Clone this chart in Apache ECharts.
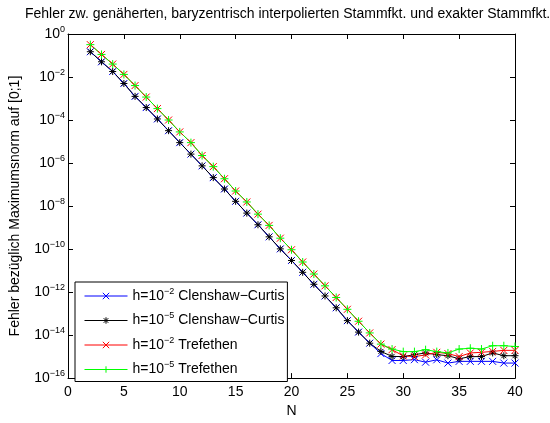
<!DOCTYPE html>
<html>
<head>
<meta charset="utf-8">
<script src="https://cdn.jsdelivr.net/npm/echarts@6/dist/echarts.min.js"></script>
<style>
html, body { margin: 0; padding: 0; background: #fff; }
#chart { width: 550px; height: 423px; }
</style>
</head>
<body>
<div id="chart"></div>
<script>
// N = 2 .. 40
var nValues = [2, 3, 4, 5, 6, 7, 8, 9, 10, 11, 12, 13, 14, 15, 16, 17, 18, 19, 20,
    21, 22, 23, 24, 25, 26, 27, 28, 29, 30, 31, 32, 33, 34, 35, 36, 37, 38, 39, 40];

// h=1e-2 Clenshaw-Curtis
var errCC2 = [1.5e-1, 5.1e-2, 1.8e-2, 5.0e-3, 1.26e-3, 3.8e-4, 1.12e-4, 3.2e-5, 8.9e-6, 2.6e-6,
    7.4e-7, 2.1e-7, 6.2e-8, 1.66e-8, 4.7e-9, 1.35e-9, 3.7e-10, 1.02e-10, 2.95e-11, 8.3e-12,
    2.3e-12, 6.6e-13, 1.86e-13, 4.7e-14, 1.38e-14, 4.2e-15, 1.38e-15, 6.6e-16, 6.6e-16, 7.2e-16,
    5.5e-16, 7.1e-16, 5.0e-16, 6.0e-16, 6.0e-16, 6.0e-16, 6.0e-16, 5.0e-16, 5.0e-16];

// h=1e-5 Clenshaw-Curtis
var errCC5 = [1.5e-1, 5.1e-2, 1.8e-2, 5.0e-3, 1.26e-3, 3.8e-4, 1.12e-4, 3.2e-5, 8.9e-6, 2.6e-6,
    7.4e-7, 2.1e-7, 6.2e-8, 1.66e-8, 4.7e-9, 1.35e-9, 3.7e-10, 1.02e-10, 2.95e-11, 8.3e-12,
    2.3e-12, 6.6e-13, 1.86e-13, 4.7e-14, 1.38e-14, 4.2e-15, 1.74e-15, 1.02e-15, 1.0e-15, 1.23e-15,
    1.48e-15, 1.23e-15, 1.1e-15, 7.9e-16, 1.0e-15, 1.0e-15, 1.48e-15, 1.1e-15, 1.1e-15];

// h=1e-2 Trefethen
var errTr2 = [3.2e-1, 1.12e-1, 4.0e-2, 1.32e-2, 4.0e-3, 1.17e-3, 3.4e-4, 1.0e-4, 2.8e-5, 8.9e-6,
    2.24e-6, 6.8e-7, 1.86e-7, 5.0e-8, 1.55e-8, 4.2e-9, 1.26e-9, 3.2e-10, 9.3e-11, 2.5e-11,
    6.9e-12, 1.95e-12, 5.6e-13, 1.58e-13, 4.4e-14, 1.26e-14, 3.8e-15, 2.1e-15, 1.07e-15, 1.0e-15,
    1.2e-15, 1.58e-15, 1.38e-15, 1.0e-15, 1.48e-15, 1.58e-15, 1.74e-15, 1.95e-15, 1.95e-15];

// h=1e-5 Trefethen
var errTr5 = [3.2e-1, 1.12e-1, 4.0e-2, 1.32e-2, 4.0e-3, 1.17e-3, 3.4e-4, 1.0e-4, 2.8e-5, 8.9e-6,
    2.24e-6, 6.8e-7, 1.86e-7, 5.0e-8, 1.55e-8, 4.2e-9, 1.26e-9, 3.2e-10, 9.3e-11, 2.5e-11,
    6.9e-12, 1.95e-12, 5.6e-13, 1.58e-13, 4.4e-14, 1.26e-14, 3.8e-15, 2.24e-15, 1.7e-15, 1.7e-15,
    2.1e-15, 1.7e-15, 1.48e-15, 2.24e-15, 2.45e-15, 2.24e-15, 3.2e-15, 3.2e-15, 2.95e-15];

var seriesKeys = ['cc2', 'cc5', 'tr2', 'tr5'];
var legendExp = ['\u22122', '\u22125', '\u22122', '\u22125'];
var legendRest = [' Clenshaw\u2212Curtis', ' Clenshaw\u2212Curtis', ' Trefethen', ' Trefethen'];

var FONT = '"Liberation Sans", Arial, Helvetica, sans-serif';
var FS = 14;

var symX = 'path://M0,0L7,7M7,0L0,7';
var symStar = 'path://M0,3.5L7,3.5M3.5,0L3.5,7M1,1L6,6M6,1L1,6';
var symPlus = 'path://M0,4L8,4M4,0L4,8';

var mkSeries = function (key, errs, color, symbol, size) {
    return {
        name: key,
        type: 'line',
        xAxisIndex: 0,
        yAxisIndex: 0,
        data: nValues.map(function (n, i) { return [n, Math.log10(errs[i])]; }),
        symbol: symbol,
        symbolSize: size,
        lineStyle: { color: color, width: 1 },
        itemStyle: { color: 'none', borderColor: color, borderWidth: 1 },
        emphasis: { disabled: true },
        z: 2
    };
};

var expLabel = function (v) {
    var e = v === 0 ? '0' : '\u2212' + Math.abs(v);
    return '{b|10}{s|' + e + '}';
};

var supRich = {
    b: { fontSize: FS, lineHeight: 18, fontFamily: FONT, color: '#000' },
    s: { fontSize: 9, lineHeight: 9, verticalAlign: 'top', fontFamily: FONT, color: '#000' }
};

var axisCommon = {
    axisLine: { show: true, onZero: false, lineStyle: { color: '#000', width: 1 } },
    axisTick: { show: true, inside: true, length: 5, lineStyle: { color: '#000' } },
    splitLine: { show: false }
};

var chart = echarts.init(document.getElementById('chart'), null, { renderer: 'canvas' });

var option = {
    animation: false,
    backgroundColor: '#fff',
    title: {
        text: 'Fehler zw. genäherten, baryzentrisch interpolierten Stammfkt. und exakter Stammfkt.',
        left: 25,
        top: 7,
        padding: 0,
        textStyle: { fontSize: FS, fontWeight: 'normal', color: '#000', fontFamily: FONT }
    },
    grid: { left: 63, right: 35, top: 34, bottom: 34, containLabel: false },
    legend: {
        orient: 'vertical',
        left: 75,
        top: 282,
        padding: [5, 3, 5, 9],
        itemWidth: 43,
        itemHeight: 8,
        itemGap: 8.5,
        borderColor: '#000',
        borderWidth: 1,
        borderRadius: 0,
        backgroundColor: '#fff',
        data: seriesKeys,
        lineStyle: { width: 1 },
        itemStyle: { borderWidth: 1 },
        formatter: function (name) {
            var i = seriesKeys.indexOf(name);
            return '{b|h=10}{s|' + legendExp[i] + '}{b|' + legendRest[i] + '}';
        },
        textStyle: { fontSize: FS, fontFamily: FONT, color: '#000', rich: supRich }
    },
    xAxis: [
        Object.assign({}, axisCommon, {
            type: 'value', position: 'bottom', min: 0, max: 40, interval: 5,
            name: 'N', nameLocation: 'middle', nameGap: 18,
            nameTextStyle: { fontSize: FS, fontFamily: FONT, color: '#000' },
            axisLabel: { margin: 7, fontSize: FS, fontFamily: FONT, color: '#000' }
        }),
        Object.assign({}, axisCommon, {
            type: 'value', position: 'top', min: 0, max: 40, interval: 5,
            axisLabel: { show: false }
        })
    ],
    yAxis: [
        Object.assign({}, axisCommon, {
            type: 'value', position: 'left', min: -16, max: 0, interval: 2,
            name: 'Fehler bezüglich Maximumsnorm auf [0;1]', nameLocation: 'middle', nameGap: 46,
            nameTextStyle: { fontSize: FS, fontFamily: FONT, color: '#000' },
            axisLabel: { margin: 3, formatter: expLabel, rich: supRich }
        }),
        Object.assign({}, axisCommon, {
            type: 'value', position: 'right', min: -16, max: 0, interval: 2,
            axisLabel: { show: false }
        })
    ],
    series: [
        mkSeries('cc2', errCC2, '#0000ff', symX, 7),
        mkSeries('cc5', errCC5, '#000000', symStar, 7),
        mkSeries('tr2', errTr2, '#ff0000', symX, 7),
        mkSeries('tr5', errTr5, '#00ff00', symPlus, 8)
    ]
};

chart.setOption(option);
</script>
</body>
</html>
